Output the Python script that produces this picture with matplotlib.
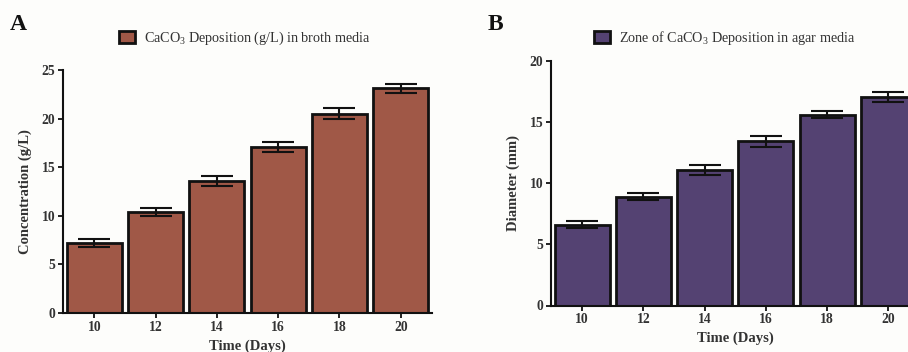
import numpy as np
import matplotlib
matplotlib.use('Agg')
from matplotlib import pyplot as plt

days = ['10', '12', '14', '16', '18', '20']

broth_conc = [7.2, 10.4, 13.6, 17.1, 20.5, 23.1]
broth_err = [0.4, 0.45, 0.5, 0.5, 0.55, 0.5]

agar_diam = [6.6, 8.9, 11.1, 13.45, 15.6, 17.05]
agar_err = [0.3, 0.3, 0.4, 0.45, 0.3, 0.4]

plt.rcParams['font.family'] = ['Liberation Serif', 'DejaVu Serif']
plt.rcParams['mathtext.fontset'] = 'custom'
plt.rcParams['mathtext.rm'] = 'Liberation Serif'

W, H = 908, 352
bg = '#fdfdfb'
fig = plt.figure(figsize=(W / 100, H / 100), dpi=100, facecolor=bg)


def px_axes(x0, x1, y0, y1):
    # pixel box (left, right, top, bottom) -> figure coords
    return fig.add_axes([x0 / W, (H - y1) / H, (x1 - x0) / W, (y1 - y0) / H])


def panel(ax, vals, errs, color, ymax, ylabel, legend_text, leg_xy):
    x = np.arange(len(days))
    bars = ax.bar(x, vals, width=0.9, color=color, edgecolor='#111111',
                  linewidth=2, label=legend_text, zorder=2)
    ax.errorbar(x, vals, yerr=errs, fmt='none', ecolor='#111111',
                elinewidth=1.5, capsize=11.5, capthick=1.5, zorder=3)
    ax.set_xlim(-0.51, 5.51)
    ax.set_ylim(0, ymax)
    ax.set_yticks(np.arange(0, ymax + 1, 5))
    ax.set_xticks(x)
    ax.set_xticklabels(days)
    ax.set_facecolor(bg)
    for s in ['top', 'right']:
        ax.spines[s].set_visible(False)
    for s in ['left', 'bottom']:
        ax.spines[s].set_linewidth(1.5)
        ax.spines[s].set_color('#111111')
    ax.tick_params(axis='both', direction='out', length=3.5, width=1.3,
                   labelsize=9.8, pad=2, colors='#111111')
    for lab in ax.get_xticklabels() + ax.get_yticklabels():
        lab.set_fontweight('bold')
        lab.set_color('#333333')
    ax.set_xlabel('Time (Days)', fontsize=10.5, fontweight='bold',
                  color='#333333', labelpad=4)
    ax.set_ylabel(ylabel, fontsize=10.5, fontweight='bold',
                  color='#333333', labelpad=7)
    ax.legend(handles=[bars], loc='center left',
              bbox_to_anchor=(leg_xy[0] / W, 1 - leg_xy[1] / H),
              bbox_transform=fig.transFigure, frameon=False, fontsize=10.2,
              handlelength=1.15, handleheight=0.95, handletextpad=0.6,
              borderpad=0, labelcolor='#333333')


axA = px_axes(63, 432, 70, 313)
panel(axA, broth_conc, broth_err, '#a05847', 25, 'Concentration (g/L)',
      'CaCO$_3$ Deposition (g/L) in broth media', (112, 38))

axB = px_axes(551, 919.5, 61, 305.5)
panel(axB, agar_diam, agar_err, '#544272', 20, 'Diameter (mm)',
      'Zone of CaCO$_3$ Deposition in agar media', (587, 38))

fig.text(10 / W, 1 - 24 / H, 'A', fontsize=17, fontweight='bold',
         va='center', ha='left', color='#111111')
fig.text(488 / W, 1 - 24 / H, 'B', fontsize=17, fontweight='bold',
         va='center', ha='left', color='#111111')

fig.savefig('out.png', dpi=100, facecolor=bg)
